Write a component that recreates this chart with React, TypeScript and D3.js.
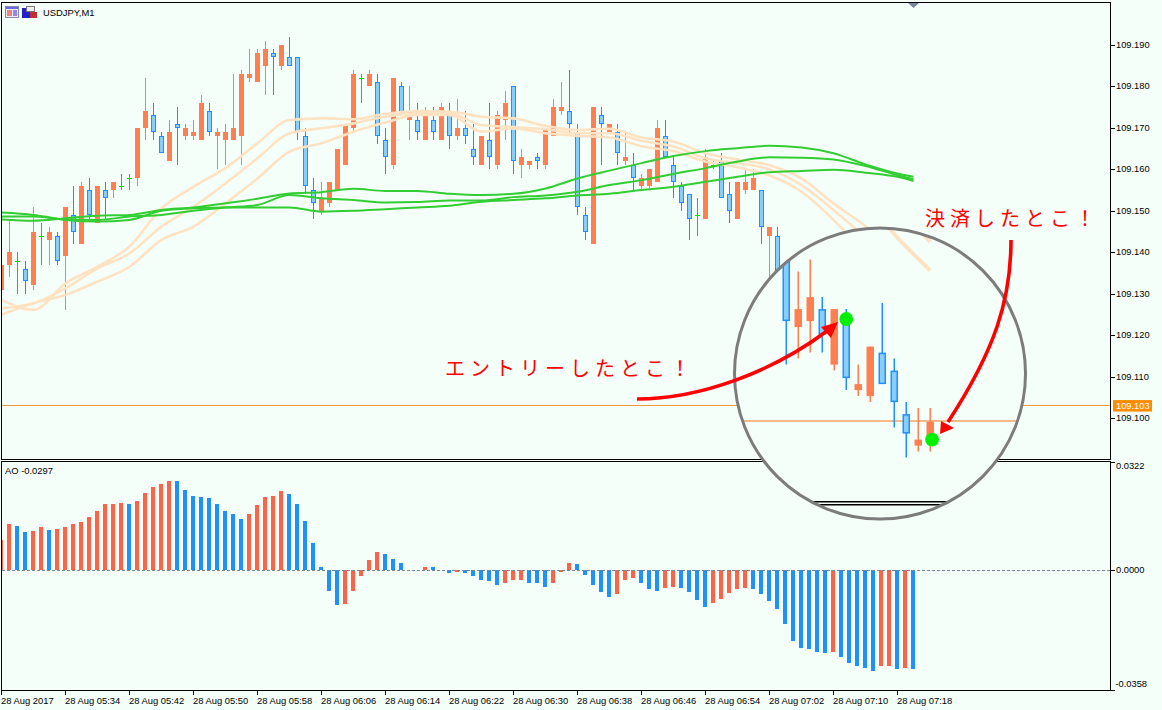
import React from "react";
import * as d3 from "d3";

const W = 1162, H = 710;
const BG = "#F5FFFA";
const UP = "#FF7F50", DOWN = "#1E90FF", DOWN_FILL = "#87CEFA", DOJI = "#00E000";
const BAR_UP = "#FF6347", BAR_DOWN = "#1E90FF";
const BEIGE = "#FFE2C2", GREEN = "#32CD32";
const FONT = "'Liberation Sans', Arial, sans-serif";

// Prices are stored as points (0.001) above the base price.
const BASE_PRICE = 109.1;
const highs = [37,48,40,38,51,47,46,45,51,56,57,58,56,57,57,59,59,70,82,76,69,72,75,71,72,78,76,70,71,83,84,89,89,91,89,90,92,87,70,58,57,57,65,71,84,83,84,83,70,82,81,80,76,75,75,76,76,77,74,71,68,76,74,79,80,65,62,64,70,77,81,84,71,51,75,75,71,71,69,64,59,60,72,72,63,57,54,53,65,62,64,57,57,60,60,55,46,46,35,33,34,33,33,27,29,23,21,21,12,15,22,13,6,5,5];
const opens = [31,37,38,36,32,44,43,44,39,49,42,55,47,55,55,56,58,58,70,73,68,62,71,68,68,67,74,68,67,67,68,82,81,85,88,85,87,87,68,55,50,52,55,61,70,82,80,81,67,61,80,72,72,67,72,67,74,68,70,65,61,67,61,72,80,61,61,63,61,68,74,74,69,49,42,73,69,69,62,61,56,56,57,68,61,56,54,49,48,61,62,54,48,55,55,55,44,44,33,30,32,29,32,18,19,21,12,20,8,7,14,11,4,-1,0];
const closes = [37,40,38,33,45,44,45,38,51,45,56,49,56,53,57,56,58,70,74,69,64,69,70,70,69,76,69,69,69,70,83,83,88,89,87,90,85,69,56,52,53,57,65,71,83,82,83,68,63,82,73,74,69,74,69,75,68,70,68,63,68,63,73,76,62,63,62,62,70,75,75,71,51,45,75,71,71,64,63,58,58,60,70,63,57,52,48,49,63,61,53,50,57,57,58,46,46,33,30,32,29,31,19,21,23,17,21,10,9,15,9,6,1,0,3];
const lows = [31,34,30,30,31,37,37,37,26,42,42,48,47,48,53,55,55,56,67,67,64,62,61,67,67,67,68,60,61,67,61,81,81,78,78,84,85,67,54,48,49,51,55,61,69,76,80,66,59,60,73,67,67,67,67,67,65,67,66,61,61,60,60,67,59,58,60,60,60,68,73,68,49,43,42,61,69,61,61,55,55,55,57,63,53,50,43,44,48,60,53,47,48,54,55,42,30,30,28,28,27,27,12,13,14,14,11,8,7,6,9,2,-3,-2,-2];

const aoValues = [0.0095,0.0145,0.0139,0.0120,0.0123,0.0135,0.0126,0.0129,0.0135,0.0145,0.0151,0.0167,0.0185,0.0207,0.0207,0.0210,0.0207,0.0217,0.0242,0.0260,0.0270,0.0279,0.0278,0.0251,0.0232,0.0229,0.0226,0.0207,0.0185,0.0176,0.0160,0.0176,0.0204,0.0229,0.0232,0.0248,0.0239,0.0207,0.0154,0.0085,0.0010,-0.0065,-0.0108,-0.0105,-0.0065,-0.0018,0.0032,0.0057,0.0051,0.0035,0.0023,0.0000,0.0000,0.0010,0.0009,0.0000,-0.0008,-0.0007,-0.0010,-0.0020,-0.0032,-0.0035,-0.0048,-0.0042,-0.0032,-0.0032,-0.0039,-0.0042,-0.0054,-0.0042,-0.0007,0.0023,0.0020,-0.0017,-0.0048,-0.0070,-0.0085,-0.0076,-0.0032,-0.0026,-0.0042,-0.0060,-0.0064,-0.0057,-0.0054,-0.0057,-0.0070,-0.0095,-0.0114,-0.0104,-0.0089,-0.0073,-0.0060,-0.0057,-0.0060,-0.0076,-0.0098,-0.0123,-0.0170,-0.0223,-0.0245,-0.0248,-0.0257,-0.0260,-0.0257,-0.0273,-0.0292,-0.0301,-0.0307,-0.0314,-0.0301,-0.0301,-0.0310,-0.0307,-0.0310];

const maBars = [0,4,8,12,16,20,24,28,32,36,40,44,48,52,56,60,64,68,72,76,80,84,88,92,96,100,104,108,112,114];
const beigeA = [28.5,26.1,32.5,36.5,41.4,50.6,55.8,60.3,66.3,71.9,72.3,72.1,73.4,74.1,73.9,72.7,72.3,70.5,69.5,69.8,67.7,66.7,63.9,62.4,61,57.8,51.8,46.3,40,36];
const beigeB = [26.5,27.7,31.3,36.1,39.7,46.2,51,56.6,62.7,68.7,69.9,71.1,72.7,73.5,73.5,70.7,70.2,69.7,68.7,68.7,66.9,65.5,62.7,61.5,60,56.2,50.2,43.5,36,31.8];
const beigeC = [24.9,27.7,29.7,32.9,36.5,43,46.2,51.8,57.8,64.3,66.3,69.1,71.3,73.1,73.1,69.1,69.9,68.7,68.1,67.7,65.6,64.4,61.9,60.5,58.5,54.6,47.8,39.5,31,27.2];
const greenA = [47.9,47.6,48.2,48.8,49,50.2,50.8,51.8,52.9,54.2,54.5,55.3,54.8,54.8,54.1,53.8,54.1,55.4,57.8,59.7,61.5,63.2,64.4,65.1,65.7,65.3,63.9,61.2,59,58.2];
const greenB = [48.6,48.6,47.9,47.8,48.6,49,50,50.8,51.4,53.8,53,52.6,52,52.1,52.5,52.5,53.3,53.7,54.6,56.2,57.4,58.9,60.3,61.9,62.9,62.8,62.4,60.8,58.6,57.6];
const greenC = [49.6,49,47.8,47.4,47.8,50,50.6,50.8,50.8,50.8,49.8,50,50.4,50.8,51.2,52.2,52.6,53,53.7,54.1,55,55.8,57,58.2,59.3,59.6,59.9,59.2,58.2,57.2];

const priceTicks = ["109.190","109.180","109.170","109.160","109.150","109.140","109.130","109.120","109.110","109.100"];
const aoTicks = ["0.0322","0.0000","-0.0358"];
const timeBars = [0,8,16,24,32,40,48,56,64,72,80,88,96,104,112];
const timeLabels = ["28 Aug 2017","28 Aug 05:34","28 Aug 05:42","28 Aug 05:50","28 Aug 05:58","28 Aug 06:06","28 Aug 06:14","28 Aug 06:22","28 Aug 06:30","28 Aug 06:38","28 Aug 06:46","28 Aug 06:54","28 Aug 07:02","28 Aug 07:10","28 Aug 07:18"];
const currentPrice = 109.103;
const magnifiedFrom = 102;
const markerBars = [107, 114.15];
const markerPoints = [19.4, 0];

const x = d3.scaleLinear().domain([0, 8]).range([1.5, 65.5]);
const y = d3.scaleLinear().domain([109.19, 109.1]).range([45.04, 418]);
const py = (pts: number) => y(BASE_PRICE + pts / 1000);
const ao = d3.scaleLinear().domain([0.0322, -0.0358]).range([467, 684.6]);

const LEFT = 1.5, RIGHT = 1110.5, TOP = 2.5, MAIN_BOTTOM = 459.5, AO_TOP = 461.5, AO_BOTTOM = 690.5;
const circle = { cx: 880, cy: 373.5, r: 145.5 };
const MAG = 1.5, MAG_DX = -440, MAG_DY = -187.4;

function Candle({ i }: { i: number }) {
  const cx = x(i), o = opens[i], c = closes[i];
  const yh = Math.round(py(highs[i])), yl = Math.round(py(lows[i]));
  const yt = Math.round(py(Math.max(o, c))), yb = Math.round(py(Math.min(o, c)));
  if (o === c) {
    return (
      <g stroke={DOJI} strokeWidth={1}>
        <line x1={cx} x2={cx} y1={yh} y2={yl} />
        <line x1={cx - 2.5} x2={cx + 2.5} y1={yt + 0.5} y2={yt + 0.5} />
      </g>
    );
  }
  if (c > o) {
    return (
      <g>
        <line x1={cx} x2={cx} y1={yh} y2={yl} stroke={UP} />
        <rect x={cx - 2.5} width={5} y={yt} height={Math.max(1, yb - yt)} fill={UP} />
      </g>
    );
  }
  return (
    <g>
      <line x1={cx} x2={cx} y1={yh} y2={yl} stroke={DOWN} />
      <rect x={cx - 2} width={4} y={yt + 0.5} height={Math.max(1, yb - yt - 1)} fill={DOWN_FILL} stroke={DOWN} />
    </g>
  );
}

function MA({ values, color, width }: { values: number[]; color: string; width: number }) {
  const line = d3.line<number>().x((_, k) => x(maBars[k])).y((v) => py(v)).curve(d3.curveMonotoneX);
  return <path d={line(values) || ""} fill="none" stroke={color} strokeWidth={width} />;
}

const allBars = d3.range(highs.length);
const beigeSeries = [beigeA, beigeB, beigeC];
const greenSeries = [greenA, greenB, greenC];

export default function App() {
  const labelStyle: any = { fontFamily: FONT, fontSize: 9.3, fill: "#000", dominantBaseline: "central" };
  return (
    <svg width={W} height={H} viewBox={`0 0 ${W} ${H}`} style={{ position: "absolute", left: 0, top: 0, display: "block" }}>
      <defs>
        <clipPath id="main"><rect x={LEFT} y={TOP} width={RIGHT - LEFT} height={MAIN_BOTTOM - TOP} /></clipPath>
        <clipPath id="aoClip"><rect x={LEFT} y={AO_TOP} width={RIGHT - LEFT} height={AO_BOTTOM - AO_TOP} /></clipPath>
        <clipPath id="lens"><circle cx={circle.cx} cy={circle.cy} r={circle.r} /></clipPath>
      </defs>
      <rect width={W} height={H} fill={BG} />

      {/* Main price panel */}
      <g clipPath="url(#main)">
        <line x1={LEFT} x2={RIGHT} y1={Math.floor(y(currentPrice)) + 0.5} y2={Math.floor(y(currentPrice)) + 0.5} stroke="#EE9A3A" />
        <g shapeRendering="crispEdges">
          {allBars.map((i) => <Candle key={i} i={i} />)}
        </g>
        {beigeSeries.map((v, k) => <MA key={k} values={v} color={BEIGE} width={2.6} />)}
        {greenSeries.map((v, k) => <MA key={k} values={v} color={GREEN} width={2} />)}
      </g>

      {/* AO panel */}
      <g clipPath="url(#aoClip)" shapeRendering="crispEdges">
        {aoValues.map((v, i) => {
          const up = i === 0 || v >= aoValues[i - 1];
          const y0 = ao(0), y1 = ao(v);
          return (
            <rect key={i} x={x(i) - 2.5} width={4} y={Math.min(y0, y1)} height={Math.abs(y1 - y0)} fill={up ? BAR_UP : BAR_DOWN} />
          );
        })}
        <line x1={LEFT} x2={RIGHT} y1={570.5} y2={570.5} stroke="#778899" strokeDasharray="3 2" />
      </g>

      {/* Frames */}
      <g fill="none" stroke="#000" shapeRendering="crispEdges">
        <rect x={LEFT} y={TOP} width={RIGHT - LEFT} height={MAIN_BOTTOM - TOP} />
        <rect x={LEFT} y={AO_TOP} width={RIGHT - LEFT} height={AO_BOTTOM - AO_TOP} />
        {priceTicks.map((t) => <line key={t} x1={RIGHT} x2={RIGHT + 4} y1={Math.round(y(+t)) + 0.5} y2={Math.round(y(+t)) + 0.5} />)}
        <line x1={RIGHT} x2={RIGHT + 4} y1={AO_TOP + 1} y2={AO_TOP + 1} />
        <line x1={RIGHT} x2={RIGHT + 4} y1={570.5} y2={570.5} />
        <line x1={RIGHT} x2={RIGHT + 4} y1={AO_BOTTOM} y2={AO_BOTTOM} />
        {timeBars.map((b) => <line key={b} x1={Math.floor(x(b)) + 0.5} x2={Math.floor(x(b)) + 0.5} y1={AO_BOTTOM} y2={AO_BOTTOM + 4} />)}
      </g>

      {/* Axis labels */}
      {priceTicks.map((t) => <text key={t} x={1116} y={y(+t)} style={labelStyle}>{t}</text>)}
      {aoTicks.map((t) => <text key={t} x={t.startsWith("-") ? 1115.5 : 1116} y={ao(+t) - (t === "0.0322" ? 1 : 0.5)} style={labelStyle}>{t}</text>)}
      {timeBars.map((b, k) => <text key={b} x={x(b) - 0.5} y={700} style={{ ...labelStyle, fontSize: 9.4 }}>{timeLabels[k]}</text>)}

      <rect x={1113} y={y(currentPrice) - 5.5} width={39} height={11.5} fill="#FF8C00" />
      <text x={1116} y={y(currentPrice) + 0.5} style={{ ...labelStyle, fill: "#fff" }}>{currentPrice.toFixed(3)}</text>

      {/* Shift marker */}
      <path d={d3.line()([[x(114) - 5.5, 3], [x(114) + 5.5, 3], [x(114), 8]]) + "Z"} fill="#778899" />

      {/* Header icons */}
      <g shapeRendering="crispEdges">
        <rect x={5.5} y={6.5} width={13} height={11} fill="#EEE" stroke="#8888AA" />
        <rect x={6} y={7} width={12} height={2} fill="#6A6AE0" />
        <rect x={7} y={10} width={5} height={6} fill="#F08080" />
        <rect x={13} y={10} width={4} height={6} fill="#8A8AF0" />
        <rect x={22} y={8} width={6} height={10} fill="#2222CC" />
        <rect x={28} y={12} width={2} height={6} fill="#2222CC" />
        <rect x={30} y={12} width={7} height={6} fill="#C03030" />
        <rect x={26} y={6.5} width={8} height={5} fill="#EEE" stroke="#777" strokeWidth={1} />
      </g>
      <text x={43} y={12.5} style={{ ...labelStyle, fontSize: 9.4 }}>USDJPY,M1</text>
      <text x={5} y={470.5} style={{ ...labelStyle, fontSize: 9.4 }}>AO -0.0297</text>

      {/* Magnifier */}
      <circle cx={circle.cx} cy={circle.cy} r={circle.r} fill={BG} />
      <g clipPath="url(#lens)">
        <g transform={`translate(${MAG_DX},${MAG_DY}) scale(${MAG})`}>
          <line x1={LEFT} x2={RIGHT} y1={y(currentPrice)} y2={y(currentPrice)} stroke="#F4A460" />
          <line x1={LEFT} x2={RIGHT} y1={MAIN_BOTTOM} y2={MAIN_BOTTOM} stroke="#000" />
          <line x1={LEFT} x2={RIGHT} y1={AO_TOP} y2={AO_TOP} stroke="#000" />
          {allBars.filter((i) => i >= magnifiedFrom).map((i) => <Candle key={i} i={i} />)}
          {beigeSeries.map((v, k) => <MA key={k} values={v} color={BEIGE} width={2.6} />)}
          {markerBars.map((b, k) => <circle key={b} cx={x(b)} cy={py(markerPoints[k])} r={4.6} fill="#00F000" />)}
        </g>
      </g>
      <circle cx={circle.cx} cy={circle.cy} r={circle.r} fill="none" stroke="#7C7C7C" strokeWidth={3} />

      {/* Annotations */}
      <g fill="none" stroke="#FF0000" strokeWidth={3.6}>
        <path d="M637 399 C700 399 772 372 827 331" />
        <path d="M1011 240 C1011 300 995 350 948 422" />
      </g>
      <g fill="#FF0000">
        <path d="M838 322 L821 327 L831 338 Z" />
        <path d="M940 434 L941 421 L954 428 Z" />
      </g>
      <g fill="#FF0000" style={{ fontFamily: "'Noto Sans CJK JP', sans-serif", fontWeight: 400 }}>
        <text x={445} y={376} fontSize={20} letterSpacing={5}>エントリーしたとこ！</text>
        <text x={925} y={226} fontSize={20} letterSpacing={5}>決済したとこ！</text>
      </g>
    </svg>
  );
}
